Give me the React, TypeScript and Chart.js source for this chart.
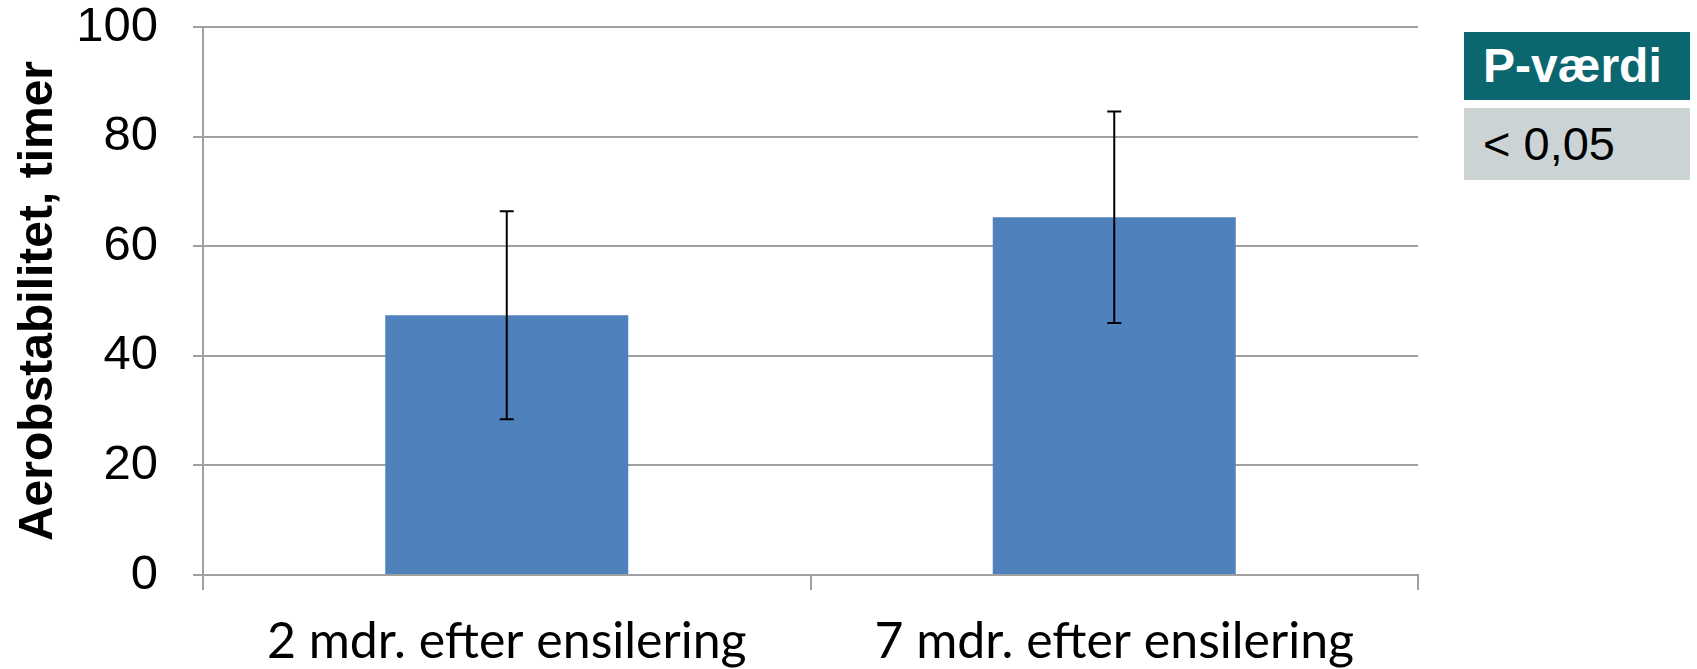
import React, { useEffect, useRef } from "react";
import { Chart, registerables } from "chart.js";

Chart.register(...registerables);

const categories = ["2 mdr. efter ensilering", "7 mdr. efter ensilering"];
const values = [47.4, 65.3];
const errors = [19.0, 19.3];
const yTickMin = 0;
const yTickMax = 100;
const yTickStep = 20;
const yTitle = "Aerobstabilitet, timer";
const pHeader = "P-værdi";
const pValue = "< 0,05";

const W = 1697;
const H = 669;
const PLOT_LEFT = 203;
const PLOT_RIGHT = 1418;
const PLOT_TOP = 27;
const PLOT_BOTTOM = 575;

const errorBarPlugin = {
  id: "errorBars",
  afterDatasetsDraw(chart: any) {
    const ctx = chart.ctx;
    const meta = chart.getDatasetMeta(0);
    const ys = chart.scales.y;
    ctx.save();
    ctx.strokeStyle = "#000000";
    ctx.lineWidth = 2;
    meta.data.forEach((bar: any, i: number) => {
      const x = bar.x;
      const top = ys.getPixelForValue(values[i] + errors[i]);
      const bot = ys.getPixelForValue(values[i] - errors[i]);
      ctx.beginPath();
      ctx.moveTo(x, top);
      ctx.lineTo(x, bot);
      ctx.moveTo(x - 7, top);
      ctx.lineTo(x + 7, top);
      ctx.moveTo(x - 7, bot);
      ctx.lineTo(x + 7, bot);
      ctx.stroke();
    });
    ctx.restore();
  },
};

export default function App() {
  const ref = useRef<HTMLCanvasElement | null>(null);

  useEffect(() => {
    if (!ref.current) return;
    const chart = new Chart(ref.current, {
      type: "bar",
      data: {
        labels: categories,
        datasets: [
          {
            data: values,
            backgroundColor: "#4f81bd",
            borderWidth: 0,
            barPercentage: 0.4,
            categoryPercentage: 1,
          },
        ],
      },
      options: {
        responsive: false,
        animation: false,
        devicePixelRatio: 1,
        layout: {
          padding: { left: 0, right: W - PLOT_RIGHT, top: PLOT_TOP, bottom: 0 },
        },
        plugins: {
          legend: { display: false },
          tooltip: { enabled: false },
        },
        scales: {
          x: {
            offset: true,
            grid: {
              offset: true,
              drawOnChartArea: false,
              color: "#a0a0a0",
              lineWidth: 2,
              tickLength: 15,
            },
            border: { color: "#a0a0a0", width: 2 },
            ticks: {
              color: "#000000",
              padding: 22,
              font: { family: "Lato", size: 50 },
              maxRotation: 0,
            },
            afterFit(scale: any) {
              scale.height = H - PLOT_BOTTOM;
              scale.paddingLeft = 0;
              scale.paddingRight = 0;
            },
          },
          y: {
            min: yTickMin,
            max: yTickMax,
            ticks: {
              stepSize: yTickStep,
              color: "#000000",
              padding: 35,
              font: { family: "Liberation Sans", size: 49 },
            },
            grid: { color: "#a0a0a0", lineWidth: 2, tickLength: 10 },
            border: { color: "#a0a0a0", width: 2 },
            title: {
              display: true,
              text: yTitle,
              color: "#000000",
              font: { family: "Liberation Sans", size: 48, weight: "bold" },
              padding: { top: 10, bottom: 0 },
            },
            afterFit(scale: any) {
              scale.width = PLOT_LEFT;
              scale.paddingTop = 0;
              scale.paddingBottom = 0;
            },
          },
        },
      },
      plugins: [errorBarPlugin],
    } as any);
    return () => chart.destroy();
  }, []);

  return (
    <div
      style={{
        position: "absolute",
        left: 0,
        top: 0,
        width: W,
        height: H,
        background: "#ffffff",
      }}
    >
      <canvas ref={ref} width={W} height={H} style={{ display: "block" }} />
      <div
        style={{
          position: "absolute",
          left: 1464,
          top: 32,
          width: 226,
          height: 68,
          background: "#0b6670",
          color: "#ffffff",
          fontFamily: "Liberation Sans",
          fontWeight: "bold",
          fontSize: 48,
          lineHeight: "68px",
          paddingLeft: 19,
          boxSizing: "border-box",
          whiteSpace: "nowrap",
        }}
      >
        {pHeader}
      </div>
      <div
        style={{
          position: "absolute",
          left: 1464,
          top: 108,
          width: 226,
          height: 72,
          background: "#cbd3d4",
          color: "#000000",
          fontFamily: "Liberation Sans",
          fontSize: 47,
          lineHeight: "72px",
          paddingLeft: 19,
          boxSizing: "border-box",
          whiteSpace: "nowrap",
        }}
      >
        {pValue}
      </div>
    </div>
  );
}
